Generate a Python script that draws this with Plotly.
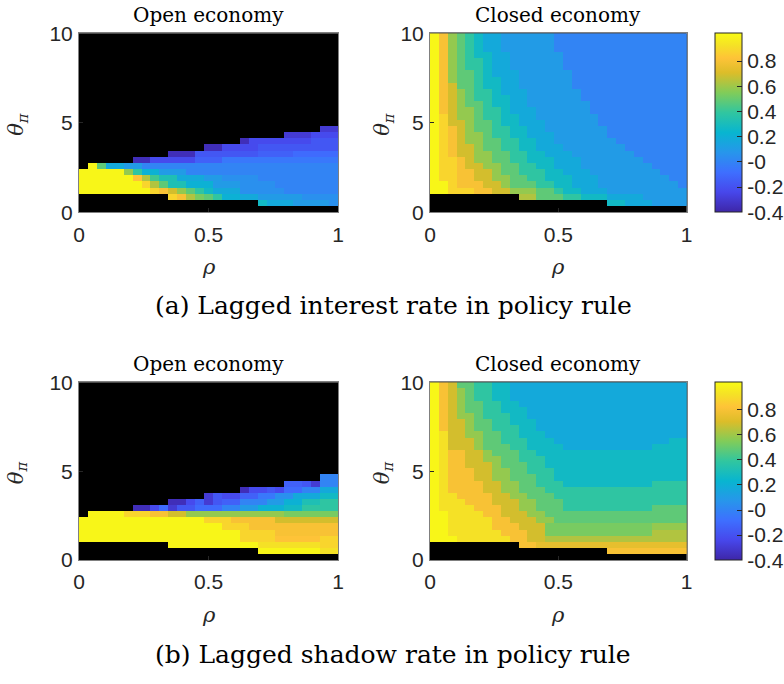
import numpy as np
import plotly.graph_objects as go

# ---------------- data ----------------
# grid: rho in [0,1] and theta_pi in [0,10], 29 x 29 cells (edges)
rho_edges = np.linspace(0.0, 1.0, 30)
theta_edges = np.linspace(0.0, 10.0, 30)

# colour-class codes -> value
# '.' = no value (black, indeterminacy)
LEVELS = {
    '1': -0.36, '2': -0.30, '3': -0.23, '4': -0.18, '5': -0.14, '6': -0.10, '7': -0.05,
    '8': 0.00, '9': 0.05, 'a': 0.10, 'b': 0.17, 'c': 0.21, 'd': 0.27, 'e': 0.32,
    'f': 0.38, 'g': 0.42, 'h': 0.48, 'i': 0.53, 'j': 0.58, 'k': 0.63, 'l': 0.69,
    'm': 0.74, 'n': 0.80, 'o': 0.82, 'p': 0.88, 'q': 0.92, 'r': 1.00,
}

# rows listed from top (theta ~ 10) to bottom (theta ~ 0), 29 columns rho 0 -> 1
open_interest = [
    "." * 29, "." * 29, "." * 29, "." * 29, "." * 29,
    "." * 29, "." * 29, "." * 29, "." * 29, "." * 29,
    "." * 29, "." * 29, "." * 29, "." * 29, "." * 29,
    "." * 27 + "22",
    "." * 23 + "222333",
    "." * 18 + "1" + "3" * 7 + "444",
    "." * 14 + "11" + "3333" + "4" * 9,
    "." * 10 + "111" + "4" * 7 + "5555" + "6" * 5,
    "." * 6 + "11" + "3" * 5 + "555" + "7" * 13,
    "." + "r" + "h" + "bb" + "aa" + "8" * 22,
    "r" * 5 + "j" + "f" + "cc" + "aaa" + "8" * 17,
    "r" * 6 + "o" + "k" + "g" + "ee" + "bbb" + "aa" + "9999" + "8" * 9,
    "r" * 7 + "p" + "k" + "h" + "ee" + "ccc" + "aaa" + "9999" + "8" * 7,
    "r" * 8 + "p" + "n" + "l" + "j" + "h" + "f" + "d" + "bbb" + "9" * 5 + "8" * 6,
    "." * 10 + "p" + "n" + "k" + "i" + "h" + "f" + "cc" + "bb" + "a" * 5 + "9" * 4,
    "." * 20 + "d" + "bbb" + "aaaa" + "9",
    "." * 29,
]

closed_interest = [
    "rnjhfdbb" + "a" * 6 + "8" * 15,
    "rnjhfdbb" + "a" * 6 + "8" * 15,
    "rnjhfdbb" + "a" * 6 + "8" * 15,
    "rnjhf" + "dd" + "bb" + "a" * 6 + "8" * 14,
    "rnjh" + "ff" + "d" + "bb" + "a" * 6 + "8" * 14,
    "rnjh" + "ff" + "d" + "bb" + "a" * 6 + "8" * 14,
    "rnj" + "hh" + "f" + "d" + "bbb" + "a" * 6 + "8" * 13,
    "rnj" + "hh" + "f" + "dd" + "bb" + "a" * 6 + "8" * 13,
    "rnl" + "hh" + "f" + "dd" + "bb" + "a" * 6 + "8" * 13,
    "rnljh" + "ff" + "d" + "bbb" + "a" * 6 + "8" * 12,
    "rnljh" + "ff" + "dd" + "bb" + "a" * 6 + "8" * 12,
    "rnlj" + "hh" + "f" + "dd" + "bb" + "a" * 7 + "8" * 11,
    "rnl" + "jj" + "h" + "ff" + "d" + "bbb" + "a" * 6 + "8" * 11,
    "rpl" + "jj" + "h" + "ff" + "dd" + "bb" + "a" * 7 + "8" * 10,
    "rp" + "ll" + "j" + "hh" + "f" + "dd" + "bbb" + "a" * 6 + "8" * 10,
    "rpnlj" + "hh" + "ff" + "dd" + "bb" + "a" * 7 + "8" * 9,
    "rpnl" + "jj" + "h" + "ff" + "dd" + "bbb" + "a" * 6 + "8" * 9,
    "rpnl" + "jj" + "hh" + "ff" + "dd" + "bb" + "a" * 7 + "8" * 8,
    "rpn" + "ll" + "j" + "hh" + "ff" + "dd" + "bbb" + "a" * 7 + "8" * 7,
    "rpn" + "ll" + "jj" + "hh" + "ff" + "dd" + "bbb" + "a" * 7 + "8" * 6,
    "r" + "pp" + "n" + "l" + "jj" + "hh" + "ff" + "ddd" + "bbb" + "a" * 7 + "8" * 5,
    "r" + "pp" + "n" + "ll" + "jj" + "hh" + "ff" + "dd" + "bbb" + "a" * 8 + "8" * 4,
    "r" + "pp" + "nn" + "ll" + "j" + "hh" + "fff" + "dd" + "bbb" + "a" * 8 + "888",
    "r" + "pp" + "nn" + "ll" + "jj" + "hh" + "ff" + "ddd" + "bbb" + "a" * 8 + "88",
    "rr" + "p" + "nnn" + "ll" + "j" + "hhh" + "ff" + "dd" + "bbb" + "a" * 9 + "8",
    "rr" + "ppp" + "nn" + "ll" + "jjj" + "hh" + "f" + "dd" + "bbb" + "a" * 9,
    "." * 10 + "kk" + "hhh" + "ff" + "ddd" + "bbbb" + "a" * 5,
    "." * 20 + "dd" + "bbb" + "aaaa",
    "." * 29,
]

open_shadow = [
    "." * 29, "." * 29, "." * 29, "." * 29, "." * 29,
    "." * 29, "." * 29, "." * 29, "." * 29, "." * 29,
    "." * 29, "." * 29, "." * 29, "." * 29, "." * 29,
    "." * 27 + "88",
    "." * 23 + "55" + "4" + "2" + "88",
    "." * 18 + "1" + "33" + "4" + "3" + "66" + "88" + "bb",
    "." * 14 + "2" + "4" + "33" + "55" + "77" + "99" + "bbb" + "dd",
    "." * 10 + "11" + "3" + "5" + "2" + "4" + "55" + "888" + "aa" + "cc" + "ee" + "ff",
    "." * 6 + "11" + "3" + "6" + "2" + "44" + "6" + "6" + "6" + "88" + "aa" + "ccc" + "dd" + "ffff",
    "." + "rrrr" + "ppp" + "nn" + "ll" + "j" * 11 + "i" * 6,
    "r" * 14 + "ppp" + "nnnnn" + "lllllll",
    "r" * 16 + "ppp" + "n" * 10,
    "r" * 18 + "pppp" + "n" * 7,
    "r" * 18 + "pppp" + "ooooo" + "pp",
    "." * 10 + "r" * 10 + "q" * 7 + "pp",
    "." * 20 + "r" * 7 + "qq",
    "." * 29,
]

closed_shadow = [
    "r" + "n" + "l" + "hh" + "ff" + "dd" + "b" * 20,
    "r" + "n" + "l" + "j" + "h" + "ff" + "dd" + "b" * 20,
    "r" + "n" + "l" + "j" + "h" + "ff" + "dd" + "b" * 20,
    "rnlj" + "hh" + "ff" + "dd" + "b" * 19,
    "rnlj" + "hh" + "ff" + "ddd" + "b" * 18,
    "rnl" + "jj" + "h" + "fff" + "dd" + "b" * 18,
    "rn" + "ll" + "j" + "hh" + "ff" + "ddd" + "b" * 17,
    "rn" + "ll" + "j" + "hh" + "fff" + "dd" + "b" * 17,
    "rq" + "ll" + "jj" + "hh" + "ff" + "ddd" + "b" * 16,
    "rq" + "lll" + "j" + "hh" + "fff" + "ddd" + "b" * 13 + "dd",
    "rq" + "lll" + "j" + "hhh" + "ff" + "dddd" + "b" * 10 + "dddd",
    "rq" + "nn" + "ll" + "j" + "hhh" + "ff" + "d" * 17,
    "rq" + "nn" + "ll" + "jj" + "hh" + "fff" + "d" * 16,
    "rq" + "nn" + "lll" + "j" + "hhh" + "ff" + "d" * 16,
    "rq" + "nnn" + "ll" + "jj" + "hh" + "fff" + "d" * 15,
    "rq" + "nnn" + "ll" + "jj" + "hhh" + "ff" + "d" * 15,
    "rq" + "nnnn" + "ll" + "jj" + "hh" + "fff" + "d" * 10 + "ffff",
    "rq" + "nnnn" + "ll" + "jj" + "hhh" + "f" * 16,
    "r" + "qq" + "nnnn" + "ll" + "jj" + "hhh" + "f" * 15,
    "r" + "qqq" + "nnn" + "lll" + "jj" + "hhh" + "f" * 14,
    "r" + "qqqq" + "nnn" + "ll" + "jj" + "hhh" + "f" * 10 + "hhhh",
    "rr" + "qqqq" + "nn" + "lll" + "jj" + "h" * 16,
    "rr" + "qqqqq" + "nn" + "lll" + "jj" + "h" * 15,
    "rr" + "qqqqq" + "nnn" + "lll" + "i" * 12 + "jjjj",
    "rr" + "qqqqqq" + "nnn" + "ll" + "i" * 12 + "kkkk",
    "rrr" + "qqqqqq" + "nn" + "ll" + "k" * 16,
    "." * 10 + "nn" + "m" * 17,
    "." * 20 + "n" * 9,
    "." * 29,
]

titles = ["Open economy", "Closed economy"]
captions = ["(a) Lagged interest rate in policy rule", "(b) Lagged shadow rate in policy rule"]
cbar_vals = [-0.4, -0.2, 0.0, 0.2, 0.4, 0.6, 0.8]
cbar_text = ["-0.4", "-0.2", "-0", "0.2", "0.4", "0.6", "0.8"]
ZMIN, ZMAX = -0.4, 1.02


def decode(rows):
    z = []
    for row in reversed(rows):  # bottom row first
        row = (row + "." * 29)[:29]
        z.append([LEVELS.get(ch, None) for ch in row])
    return z


# MATLAB parula
parula = [
    [0.000, "rgb(62,38,168)"],
    [0.111, "rgb(71,71,235)"],
    [0.222, "rgb(62,111,255)"],
    [0.333, "rgb(39,150,235)"],
    [0.444, "rgb(8,181,208)"],
    [0.556, "rgb(49,198,159)"],
    [0.667, "rgb(129,204,89)"],
    [0.778, "rgb(220,189,41)"],
    [0.860, "rgb(254,195,56)"],
    [0.930, "rgb(245,225,38)"],
    [1.000, "rgb(249,251,21)"],
]

W, H = 784, 684
TXT = "#262626"
SANS = "Liberation Sans, Arial, sans-serif"
SERIF = "DejaVu Serif, serif"

# pixel boxes of the four panels: (left, right, top, bottom)
boxes = [
    (79, 338, 33.3, 212.3),
    (430, 686.7, 33.3, 212.3),
    (79, 338, 382.3, 560.0),
    (430, 686.7, 382.3, 560.0),
]
panels = [open_interest, closed_interest, open_shadow, closed_shadow]

fig = go.Figure()
layout = dict(
    width=W, height=H, margin=dict(l=0, r=0, t=0, b=0, pad=0, autoexpand=False),
    paper_bgcolor="white", plot_bgcolor="black", showlegend=False,
)

annotations = []
for k, (rows, box) in enumerate(zip(panels, boxes)):
    l, r, t, b = box
    xa = "x" if k == 0 else f"x{k+1}"
    ya = "y" if k == 0 else f"y{k+1}"
    show = (k % 2 == 1)
    cb = None
    if show:
        cb = dict(
            x=715 / W, xanchor="left", xpad=0,
            y=1 - (t + b) / 2 / H, yanchor="middle", len=(b - t) / H, lenmode="fraction", ypad=0,
            thickness=27, thicknessmode="pixels",
            outlinecolor=TXT, outlinewidth=1,
            tickvals=cbar_vals, ticktext=cbar_text,
            ticks="inside", ticklen=5, tickcolor=TXT,
            tickfont=dict(family=SANS, size=21, color=TXT),
        )
    fig.add_trace(go.Heatmap(
        z=decode(rows), x=rho_edges, y=theta_edges,
        colorscale=parula, zmin=ZMIN, zmax=ZMAX,
        showscale=show, colorbar=cb, xaxis=xa, yaxis=ya,
        hoverongaps=False,
    ))
    axbase = dict(
        showgrid=False, zeroline=False, showline=True, linecolor="#808080", linewidth=1,
        mirror=True, ticks="inside", ticklen=4, tickcolor=TXT,
        tickfont=dict(family=SANS, size=21, color=TXT),
    )
    xkey = "xaxis" if k == 0 else f"xaxis{k+1}"
    ykey = "yaxis" if k == 0 else f"yaxis{k+1}"
    layout[xkey] = dict(axbase, domain=[l / W, r / W], range=[0, 1], anchor=ya,
                        tickvals=[0, 0.5, 1], ticktext=["0", "0.5", "1"], ticklabelstandoff=3)
    layout[ykey] = dict(axbase, domain=[1 - b / H, 1 - t / H], range=[0, 10], anchor=xa,
                        tickvals=[0, 5, 10], ticktext=["0", "5", "10"], ticklabelstandoff=1)
    cx = (l + r) / 2 / W
    # panel title
    annotations.append(dict(text=titles[k % 2], x=cx, y=1 - (t - 18) / H, xref="paper", yref="paper",
                            showarrow=False, xanchor="center", yanchor="middle",
                            font=dict(family=SERIF, size=20, color="black")))
    # x label
    annotations.append(dict(text="<i>ρ</i>", x=cx, y=1 - (b + 55) / H, xref="paper", yref="paper",
                            showarrow=False, xanchor="center", yanchor="middle",
                            font=dict(family=SERIF, size=21, color=TXT)))
    # y label
    ylx = 17 if k % 2 == 0 else 383
    annotations.append(dict(text="<i>θ</i><sub><i>π</i></sub>", x=ylx / W, y=1 - ((t + b) / 2 + 2) / H,
                            xref="paper", yref="paper", showarrow=False, textangle=-90,
                            xanchor="center", yanchor="middle",
                            font=dict(family=SERIF, size=21, color=TXT)))

annotations.append(dict(text=captions[0], x=393 / W, y=1 - 305 / H, xref="paper", yref="paper",
                        showarrow=False, xanchor="center", yanchor="middle",
                        font=dict(family=SERIF, size=25, color="black")))
annotations.append(dict(text=captions[1], x=393 / W, y=1 - 654 / H, xref="paper", yref="paper",
                        showarrow=False, xanchor="center", yanchor="middle",
                        font=dict(family=SERIF, size=25, color="black")))
layout["annotations"] = annotations
fig.update_layout(**layout)
fig.write_html("out.html")
